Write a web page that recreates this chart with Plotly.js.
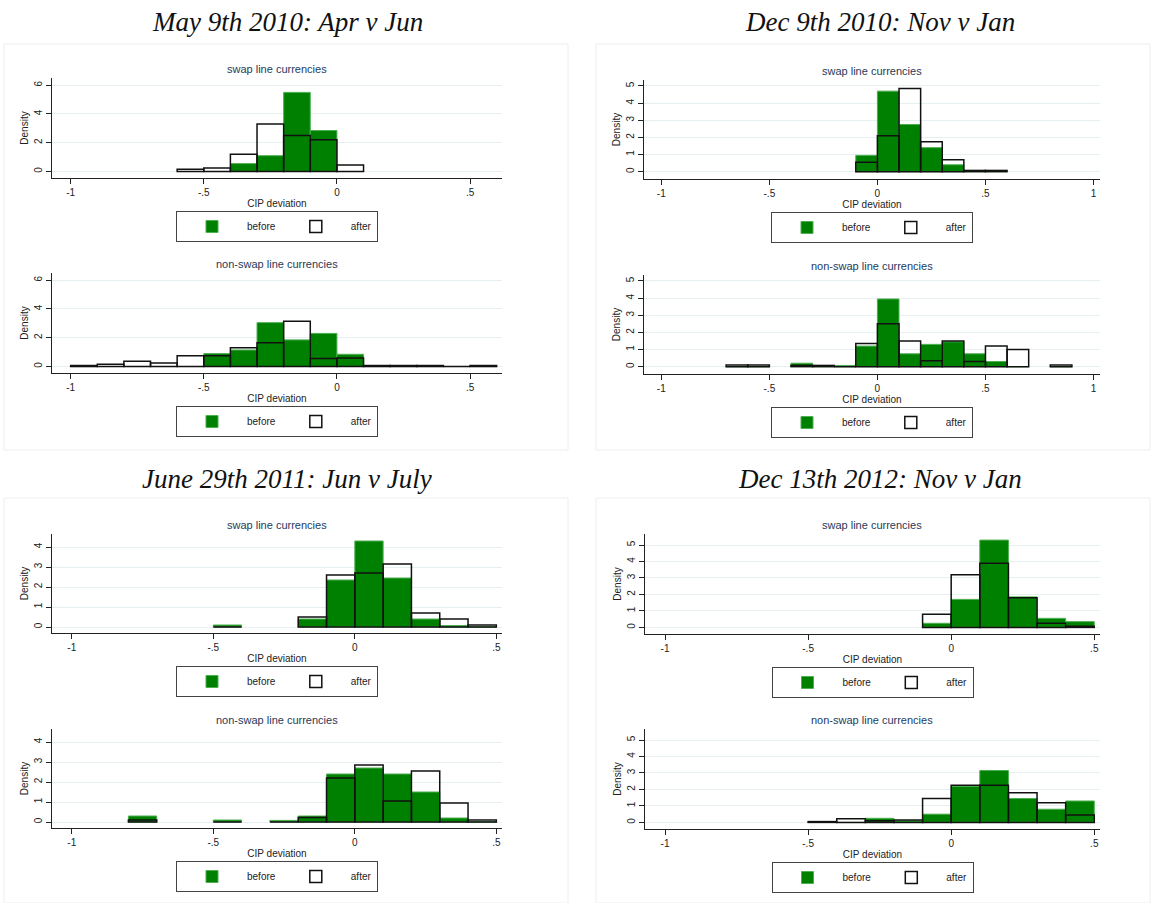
<!DOCTYPE html>
<html>
<head>
<meta charset="utf-8">
<script src="https://cdn.plot.ly/plotly-3.0.1.min.js"></script>
<style>body{margin:0;background:#fff}#chart{width:1154px;height:903px}</style>
</head>
<body>
<div id="chart"></div>
<script>
// bin centres (width 0.1) and densities
const may10SwapX      = [-0.55, -0.45, -0.35, -0.25, -0.15, -0.05, 0.05];
const may10SwapBefore = [0, 0, 0.55, 1.1, 5.5, 2.85, 0];
const may10SwapAfter  = [0.15, 0.25, 1.2, 3.3, 2.5, 2.2, 0.45];

const may10NonX      = [-0.95, -0.85, -0.75, -0.65, -0.55, -0.45, -0.35, -0.25, -0.15, -0.05, 0.05, 0.15, 0.25, 0.35, 0.45, 0.55];
const may10NonBefore = [0, 0, 0, 0, 0, 0.9, 1.15, 3.05, 1.85, 2.3, 0.85, 0, 0, 0, 0, 0];
const may10NonAfter  = [0.07, 0.15, 0.37, 0.25, 0.75, 0.75, 1.3, 1.65, 3.15, 0.55, 0.6, 0.07, 0.07, 0.07, 0, 0.07];

const dec10SwapX      = [-0.05, 0.05, 0.15, 0.25, 0.35, 0.45, 0.55];
const dec10SwapBefore = [0.95, 4.7, 2.75, 1.4, 0.4, 0, 0];
const dec10SwapAfter  = [0.55, 2.1, 4.85, 1.75, 0.7, 0.07, 0.07];

const dec10NonX      = [-0.65, -0.55, -0.35, -0.25, -0.15, -0.05, 0.05, 0.15, 0.25, 0.35, 0.45, 0.55, 0.65, 0.85];
const dec10NonBefore = [0, 0, 0.2, 0, 0.07, 1.2, 3.95, 0.75, 1.3, 1.45, 0.75, 0.3, 0, 0];
const dec10NonAfter  = [0.1, 0.1, 0.07, 0.07, 0, 1.35, 2.5, 1.5, 0.35, 1.5, 0.3, 1.2, 1.0, 0.1];

const jun11SwapX      = [-0.45, -0.15, -0.05, 0.05, 0.15, 0.25, 0.35, 0.45];
const jun11SwapBefore = [0.1, 0.4, 2.35, 4.3, 2.45, 0.4, 0.07, 0];
const jun11SwapAfter  = [0, 0.5, 2.6, 2.7, 3.15, 0.7, 0.4, 0.1];

const jun11NonX      = [-0.75, -0.45, -0.25, -0.15, -0.05, 0.05, 0.15, 0.25, 0.35, 0.45];
const jun11NonBefore = [0.3, 0.1, 0.08, 0.3, 2.4, 2.7, 2.4, 1.5, 0.2, 0];
const jun11NonAfter  = [0.1, 0, 0, 0.22, 2.2, 2.85, 1.05, 2.55, 0.95, 0.1];

const dec12SwapX      = [-0.05, 0.05, 0.15, 0.25, 0.35, 0.45];
const dec12SwapBefore = [0.25, 1.7, 5.3, 1.85, 0.55, 0.35];
const dec12SwapAfter  = [0.8, 3.2, 3.9, 1.8, 0.25, 0.07];

const dec12NonX      = [-0.45, -0.35, -0.25, -0.15, -0.05, 0.05, 0.15, 0.25, 0.35, 0.45];
const dec12NonBefore = [0, 0, 0.25, 0.1, 0.5, 2.2, 3.15, 1.45, 0.8, 1.3];
const dec12NonAfter  = [0.05, 0.22, 0.1, 0.15, 1.45, 2.25, 2.25, 1.8, 1.2, 0.45];

const panelTitles = ['May 9th 2010: Apr v Jun', 'Dec 9th 2010: Nov v Jan', 'June 29th 2011: Jun v July', 'Dec 13th 2012: Nov v Jan'];

const W = 1154, H = 903;
const GREEN = '#008000';

// pixel boxes of each plot area: [x0, x1, y0, y1]
const panels = [
  {x: may10SwapX, b: may10SwapBefore, a: may10SwapAfter, box: [52, 502, 78, 178], xr: [-1.07, 0.62], yr: [-0.45, 6.5], dt: 2, xt: [-1, -0.5, 0, 0.5], sub: 'swap line currencies'},
  {x: may10NonX, b: may10NonBefore, a: may10NonAfter, box: [52, 502, 273, 373], xr: [-1.07, 0.62], yr: [-0.45, 6.5], dt: 2, xt: [-1, -0.5, 0, 0.5], sub: 'non-swap line currencies'},
  {x: dec10SwapX, b: dec10SwapBefore, a: dec10SwapAfter, box: [644, 1100, 80, 179], xr: [-1.08, 1.03], yr: [-0.43, 5.35], dt: 1, xt: [-1, -0.5, 0, 0.5, 1], sub: 'swap line currencies'},
  {x: dec10NonX, b: dec10NonBefore, a: dec10NonAfter, box: [644, 1100, 275, 374], xr: [-1.08, 1.03], yr: [-0.43, 5.35], dt: 1, xt: [-1, -0.5, 0, 0.5, 1], sub: 'non-swap line currencies'},
  {x: jun11SwapX, b: jun11SwapBefore, a: jun11SwapAfter, box: [52, 502, 534, 633], xr: [-1.07, 0.52], yr: [-0.3, 4.65], dt: 1, xt: [-1, -0.5, 0, 0.5], sub: 'swap line currencies'},
  {x: jun11NonX, b: jun11NonBefore, a: jun11NonAfter, box: [52, 502, 729, 828], xr: [-1.07, 0.52], yr: [-0.3, 4.65], dt: 1, xt: [-1, -0.5, 0, 0.5], sub: 'non-swap line currencies'},
  {x: dec12SwapX, b: dec12SwapBefore, a: dec12SwapAfter, box: [645, 1100, 534, 634], xr: [-1.07, 0.52], yr: [-0.4, 5.67], dt: 1, xt: [-1, -0.5, 0, 0.5], sub: 'swap line currencies'},
  {x: dec12NonX, b: dec12NonBefore, a: dec12NonAfter, box: [645, 1100, 729, 829], xr: [-1.07, 0.52], yr: [-0.4, 5.67], dt: 1, xt: [-1, -0.5, 0, 0.5], sub: 'non-swap line currencies'}
];

function tickText(v) {
  if (v === 0) return '0';
  return String(v).replace('0.', '.');
}

let traces = [];
let layout = {
  width: W, height: H,
  margin: {l: 0, r: 0, t: 0, b: 0},
  paper_bgcolor: '#fff',
  plot_bgcolor: '#fff',
  barmode: 'overlay',
  font: {family: 'Liberation Sans, Arial', size: 10, color: '#222'},
  annotations: [],
  shapes: []
};

panels.forEach((p, i) => {
  let n = i + 1;
  let sfx = n === 1 ? '' : String(n);
  let xa = 'x' + sfx, ya = 'y' + sfx, lg = 'legend' + sfx;
  let [x0, x1, y0, y1] = p.box;

  traces.push({
    type: 'bar', x: p.x, y: p.b, width: 0.1, name: 'before',
    xaxis: xa, yaxis: ya, legend: lg,
    marker: {color: GREEN, line: {color: '#4caf50', width: 1}}
  });
  traces.push({
    type: 'bar', x: p.x, y: p.a, width: 0.1, name: 'after',
    xaxis: xa, yaxis: ya, legend: lg,
    marker: {color: 'rgba(0,0,0,0)', line: {color: '#111', width: 1.5}}
  });

  let yt = [];
  for (let v = 0; v <= p.yr[1]; v += p.dt) yt.push(v);

  layout['xaxis' + sfx] = {
    domain: [x0 / W, x1 / W], anchor: ya, range: p.xr,
    tickvals: p.xt, ticktext: p.xt.map(tickText),
    ticks: 'outside', ticklen: 5, tickcolor: '#222',
    showgrid: false, zeroline: false,
    showline: true, linecolor: '#222', linewidth: 1,
    tickfont: {size: 10},
    title: {text: 'CIP deviation', font: {size: 10}, standoff: 2}
  };
  layout['yaxis' + sfx] = {
    domain: [1 - y1 / H, 1 - y0 / H], anchor: xa, range: p.yr,
    tickvals: yt, ticks: 'outside', ticklen: 5, tickcolor: '#222',
    tickangle: -90, tickfont: {size: 10},
    showgrid: true, gridcolor: '#e6eff1', zeroline: false,
    showline: true, linecolor: '#222', linewidth: 1,
    title: {text: 'Density', font: {size: 10}, standoff: 2}
  };
  layout[lg] = {
    orientation: 'h', x: ((x0 + x1) / 2) / W, xanchor: 'center',
    y: 1 - (y1 + 33) / H, yanchor: 'top',
    bordercolor: '#444', borderwidth: 1, bgcolor: '#fff',
    font: {size: 10}, itemwidth: 60, traceorder: 'normal'
  };
  layout.annotations.push({
    xref: 'paper', yref: 'paper', x: ((x0 + x1) / 2) / W, y: 1 - (y0 - 9) / H,
    xanchor: 'center', yanchor: 'middle',
    text: p.sub, showarrow: false, font: {size: 11, color: '#1f3a5a'}
  });
});

// big panel titles
const titlePos = [[287, 22], [880, 22], [287, 479], [880, 479]];
panelTitles.forEach((t, i) => {
  layout.annotations.push({
    xref: 'paper', yref: 'paper', x: titlePos[i][0] / W, y: 1 - titlePos[i][1] / H,
    xanchor: 'center', yanchor: 'middle',
    text: '<i>' + t + '</i>', showarrow: false,
    font: {family: 'Liberation Serif, DejaVu Serif', size: 27, color: '#111'}
  });
});

// faint frames round the quadrants
[[4, 568, 44, 450], [596, 1150, 44, 450], [4, 568, 498, 903], [596, 1150, 498, 903]].forEach(b => {
  layout.shapes.push({
    type: 'rect', xref: 'paper', yref: 'paper',
    x0: b[0] / W, x1: b[1] / W, y0: 1 - b[3] / H, y1: 1 - b[2] / H,
    line: {color: '#eeeeee', width: 1}
  });
});

Plotly.newPlot('chart', traces, layout, {displayModeBar: false, staticPlot: true});
</script>
</body>
</html>
